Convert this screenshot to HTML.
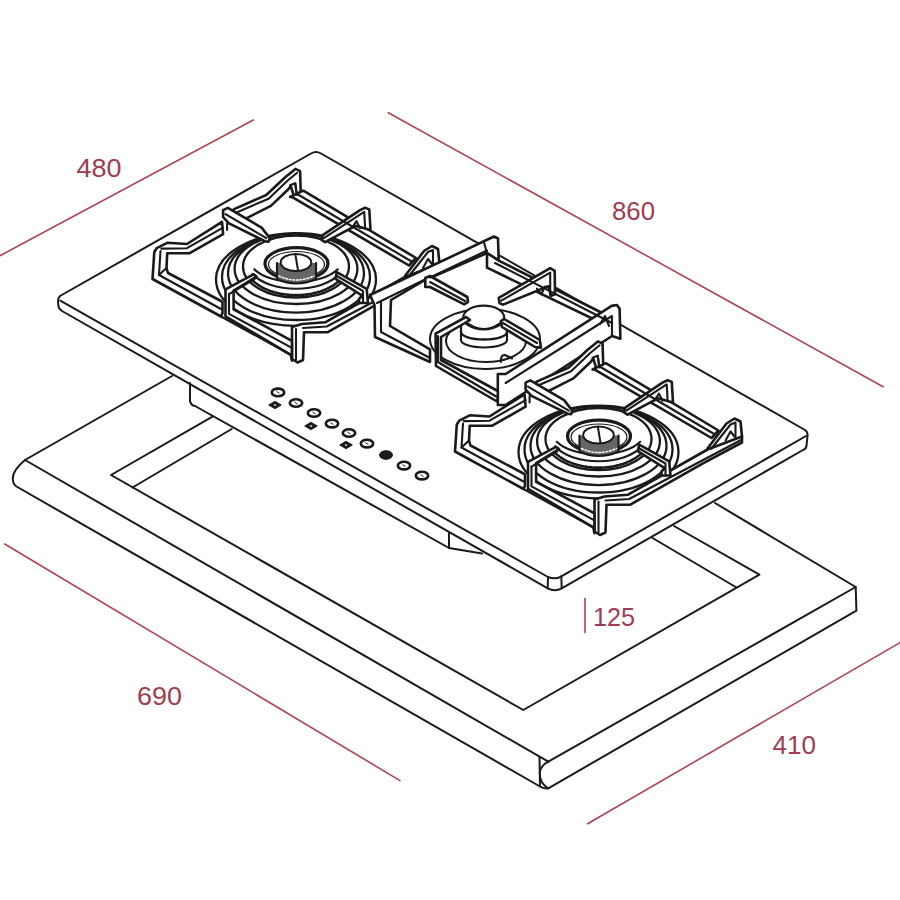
<!DOCTYPE html>
<html><head><meta charset="utf-8"><style>
html,body{margin:0;padding:0;background:#fff;width:900px;height:900px;overflow:hidden}
svg{display:block}
</style></head><body>
<svg width="900" height="900" viewBox="0 0 900 900"><g stroke="#ad4553" stroke-width="1.6" fill="none" stroke-linecap="round">
<line x1="0" y1="255.7" x2="253.3" y2="120"/>
<line x1="388.3" y1="112.7" x2="883.1" y2="386.7"/>
<line x1="4.7" y1="544" x2="400" y2="780.6"/>
<line x1="587.6" y1="823.8" x2="905" y2="639.8"/>
<line x1="585" y1="598.5" x2="585" y2="632.5"/>
</g>
<g fill="#a03c50" font-family="Liberation Sans, sans-serif" font-size="25">
<text x="76.5" y="176.7" textLength="45" lengthAdjust="spacingAndGlyphs">480</text>
<text x="612" y="220" textLength="43" lengthAdjust="spacingAndGlyphs">860</text>
<text x="137" y="705.2" textLength="45" lengthAdjust="spacingAndGlyphs">690</text>
<text x="772.5" y="753.5" textLength="43.5" lengthAdjust="spacingAndGlyphs">410</text>
<text x="593" y="626.3" textLength="42" lengthAdjust="spacingAndGlyphs">125</text>
</g>
<g stroke="#1a1a1a" stroke-width="2" fill="none" stroke-linejoin="round" stroke-linecap="round">
<path d="M172,376 L25,460 C19,465 13,472 12.8,478 C12.6,482 13.5,484.5 16.5,486.5 L540,786.5"/>
<path d="M25,460 L548.3,761.7"/>
<path d="M539.5,757 L540,786.5 C542,788 545,788.6 548.3,788.3 L856.4,610.7 L855.7,587 L715,503"/>
<path d="M548.3,761.7 C543,764.5 540,768 539.8,773 C539.6,779 541,784 548.3,788.3"/>
<path d="M548.3,761.7 L855.7,587"/>
<!-- cutout -->
<path d="M212.5,416.7 L111,475 L523.3,710 L759.4,574.7 L674,526"/>
<path d="M132.5,487.5 L231.7,429"/>
<path d="M736.5,587.5 L652.5,538"/>
</g>
<g stroke="#1a1a1a" stroke-width="2" fill="none" stroke-linejoin="round" stroke-linecap="round">
<path d="M190,383 L190,401 C190.5,404 192,405.5 195,406 L449,548 L449,533"/>
<path d="M449,548 L482,553.5"/>
<path d="M60,296 L311,153.5 Q316,150.5 321,153.5 L805,430 Q808,432 807.5,436 L806.5,446 Q806,449 803,450 L561.7,588.3 Q555,592 547.7,588.3 L62,311 Q58.5,309 58.3,305 L58,301 Q58,298 60,296 Z"/>
<path d="M60.3,300.7 L548,577 Q555,580 561.3,576.3 L806,436"/>
<path d="M548,577 L547.7,588.3 M561.3,576.3 L561.7,588.3"/>
</g>
<g transform="translate(0,0)" stroke="#1a1a1a" stroke-width="2" fill="none" stroke-linejoin="round" stroke-linecap="round">
<ellipse cx="296" cy="279.5" rx="80" ry="46.3" fill="#fff" stroke-width="2.3"/>
<ellipse cx="296" cy="277.0" rx="74" ry="43.0" fill="#fff" stroke-width="2.3"/>
<ellipse cx="296" cy="273.3" rx="68" ry="39.3" fill="#fff" stroke-width="2.3"/>
<ellipse cx="296" cy="268.8" rx="61.4" ry="35.2" fill="#fff" stroke-width="2.3"/>
<ellipse cx="296" cy="266.5" rx="53" ry="31" fill="#fff" stroke-width="2.3"/>
<path d="M341.3,278.1 A50,29.6 0 0 1 250.7,278.1" stroke-dasharray="2.2 1.6" stroke-width="2.6"/>
<path d="M339.5,273.8 A48,25.9 0 0 1 252.5,273.8" stroke-width="2.2"/>
<path d="M337.7,269.3 A46,22 0 0 1 254.3,269.3" stroke-width="2.2"/>
<ellipse cx="296.5" cy="263.7" rx="31.5" ry="16" fill="#fff" stroke-width="3.2"/>
<ellipse cx="296.5" cy="264.5" rx="28" ry="13" stroke-width="1.2"/>
<path d="M277,263 L277,279 Q296,288 316,279 L316,263" fill="#666" stroke-width="2.2"/>
<path d="M279,276 Q296,284 314,276" stroke="#fff" stroke-width="1.4" stroke-dasharray="1.8 1.8"/>
<ellipse cx="296" cy="262.5" rx="15.3" ry="8.5" fill="#fff" stroke-width="2"/>
<line x1="295.4" y1="254.5" x2="298" y2="270.4"/>
<path d="M222,221.8 L187,244 L167.2,242.8 L156.7,248.2 L154.3,252 L152.5,279 L221,316.5 L222.5,313 L222.5,302 L221,301 L168,273 L166.5,268 L167.2,253.3 L189.3,253.3 L223.1,234.2 Z" fill="#fff" fill-rule="evenodd" stroke-width="2.6"/>
<path d="M233.6,209.4 L266.3,195.0 L284.9,177.5 L295.4,168.9 L300.1,171.2 L300.8,195.0 L305.0,197.3 L305.0,203.1 L294.3,197.3 L290.8,186.1 L287.3,190.3 L270.9,205.9 L245.3,218.8 L232.5,221.1 Z" fill="#fff" fill-rule="evenodd" stroke-width="2.6"/>
<path d="M303.3,190.7 L416,258 L409,265.5 L292.7,197.3 L290,197 Z" fill="#fff" fill-rule="evenodd" stroke-width="2.6"/>
<path d="M405,276 L424,251 L432,246 L438,249 L439.5,264 L433,268 L412,280 Z" fill="#fff" fill-rule="evenodd" stroke-width="2.6"/>
<path d="M292,327 L302,324 L325.6,322.2 L405,277 L439.5,264 L439.5,270 L400,291.1 L327.8,332.2 L304,332.2 L303,360 L297.5,362.5 L292,359 Z" fill="#fff" fill-rule="evenodd" stroke-width="2.6"/>
<path d="M225.5,316.3 L225.5,289.4 L253.5,274.3 L256.5,276.6 L233.6,290.6 L233.6,309.3 L291.9,340.8 L291.9,360.6 L290.8,354.8 Z" fill="#fff" fill-rule="evenodd" stroke-width="2.6"/>
<path d="M223.1,210.1 L227.8,207.8 L261.6,227.6 L269.8,238.1 L268.6,241.6 L265.1,241.2 L229.0,223.4 L223.1,217.1 Z" fill="#fff" fill-rule="evenodd" stroke-width="2.6"/>
<path d="M321.5,239.8 L325.0,242.1 L355.3,225.8 L370.5,230.0 L369.3,209.4 L365.1,207.8 L360.0,210.1 L322.7,235.1 Z" fill="#fff" fill-rule="evenodd" stroke-width="2.6"/>
<path d="M335.6,278.9 L336.7,272.2 L366.7,288.9 L368,303 L359,303 L359,299 L362.2,295.6 Z" fill="#fff" fill-rule="evenodd" stroke-width="2.6"/>
<path d="M160.5,251 L159,275 L221,309" stroke-width="2.1"/>
<path d="M159,275 L166.5,268" stroke-width="2.1"/>
<path d="M161.3,248.6 L187.0,248.2 L223.1,227.6" stroke-width="2.1"/>
<path d="M221,316.5 L292,355.5" stroke-width="2.1"/>
<path d="M236.0,212.7 L268.6,198.7 L287.7,180.5 L297.1,172.8" stroke-width="2.1"/>
<path d="M295.4,183.3 L296.6,193.8" stroke-width="2.1"/>
<path d="M298,194.5 L412.5,262" stroke-width="2.1"/>
<path d="M290.0,185.2 L295.1,183.3 L297.0,195.0" stroke-width="2.1"/>
<path d="M409,276 L428,252 L433,250 L433,265" stroke-width="2.1"/>
<path d="M423,268 L428,259 L432,264" stroke-width="2.1"/>
<path d="M303,328 L326.7,326.5 L439.5,267" stroke-width="2.1"/>
<path d="M296,329 L296,360" stroke-width="2.1"/>
<path d="M229.0,294.1 L229.0,313.9 L291.9,347.8" stroke-width="2.1"/>
<path d="M229.0,294.1 L254.6,279.0" stroke-width="2.1"/>
<path d="M225.5,214.1 L266.3,238.1" stroke-width="2.1"/>
<path d="M227.1,223.4 L227.1,230.0" stroke-width="2.1"/>
<path d="M323.8,238.1 L364.2,211.8 L365.1,227.6" stroke-width="2.1"/>
<path d="M351.8,228.1 L356.5,221.1 L360.0,228.1" stroke-width="2.1"/>
<path d="M336,275.5 L363,291 L363,303" stroke-width="2.1"/>
</g>
<g stroke="#1a1a1a" stroke-width="2" fill="none" stroke-linejoin="round" stroke-linecap="round">
<ellipse cx="485" cy="339" rx="55" ry="30" fill="#fff"/>
<ellipse cx="486" cy="341" rx="40" ry="21" fill="#fff"/>
<path d="M461,322 L461,340 A23,7.5 0 0 0 507,340 L507,322 Z" fill="#fff" stroke-width="2.2"/>
<path d="M461,332 A23,7.5 0 0 0 507,332" stroke-width="2.4"/>
<ellipse cx="483.7" cy="317.5" rx="20.5" ry="11.8" fill="#fff" stroke-width="2.2"/>
<path d="M463.5,320 Q484,338 504,320" stroke-width="1.8"/>
<path d="M370,295 L494,236.5 L498,238.5 L498.7,260.6 L487,253 L430,278 L425,280 L391,300 L390,326 L430,349.4 L430,362 L375,337 L374.5,305 Z" fill="#fff" fill-rule="evenodd" stroke-width="2.6"/>
<path d="M498.7,260.6 L612,318 L612,328 L487,267.7 L487,253 Z" fill="#fff" fill-rule="evenodd" stroke-width="2.6"/>
<path d="M505.6,374 L611.6,305.9 L616.9,305 L619.6,308.6 L620.4,338.8 L612,336 L505.6,405 L497.8,405 L497.8,374 Z" fill="#fff" fill-rule="evenodd" stroke-width="2.6"/>
<path d="M435.6,333.6 L466,317 L470,320 L441,337 L441,360 L497.8,391 L497.8,399 L496.2,401 L436,366 Z" fill="#fff" fill-rule="evenodd" stroke-width="2.6"/>
<path d="M425.3,278 L430,276 L467.3,297 L468,302 L464.2,304.3 L430,287 L425.3,287 Z" fill="#fff" fill-rule="evenodd" stroke-width="2.6"/>
<path d="M498.7,297.9 L550.2,268.2 L554.7,270.9 L555,294.3 L551.1,295.8 L548.4,286.3 L503.1,304.6 L499.6,303.2 Z" fill="#fff" fill-rule="evenodd" stroke-width="2.6"/>
<path d="M500.9,321.1 L504,319 L539.8,340 L541,347.6 L535,347 L502,327 Z" fill="#fff" fill-rule="evenodd" stroke-width="2.6"/>
<path d="M377,303 L425,279.5" stroke-width="2.1"/>
<path d="M430,277.5 L487,250.5" stroke-width="2.1"/>
<path d="M381,302 L381,332 L430,358" stroke-width="2.1"/>
<path d="M483.6,241 L487,253" stroke-width="2.1"/>
<path d="M495,263 L612,323" stroke-width="2.1"/>
<path d="M505.6,383 L612,316 L612,336" stroke-width="2.1"/>
<path d="M600,324 L605,316 L609,326" stroke-width="2.1"/>
<path d="M438,336 L438,362 L497,397" stroke-width="2.1"/>
<path d="M430,282 L465,301" stroke-width="2.1"/>
<path d="M501.3,300.6 L550.2,272.6 L550.2,295.2" stroke-width="2.1"/>
<path d="M536.9,288.5 L541.3,294.3 L544.9,286.5" stroke-width="2.1"/>
<path d="M503,323 L537,343" stroke-width="2.1"/>
<path d="M501,362 C500.5,357.5 502,354.5 505,355 L512,358.5" stroke-width="2.1"/>
</g>
<g transform="translate(302.5,172.5)" stroke="#1a1a1a" stroke-width="2" fill="none" stroke-linejoin="round" stroke-linecap="round">
<ellipse cx="296" cy="279.5" rx="80" ry="46.3" fill="#fff" stroke-width="2.3"/>
<ellipse cx="296" cy="277.0" rx="74" ry="43.0" fill="#fff" stroke-width="2.3"/>
<ellipse cx="296" cy="273.3" rx="68" ry="39.3" fill="#fff" stroke-width="2.3"/>
<ellipse cx="296" cy="268.8" rx="61.4" ry="35.2" fill="#fff" stroke-width="2.3"/>
<ellipse cx="296" cy="266.5" rx="53" ry="31" fill="#fff" stroke-width="2.3"/>
<path d="M341.3,278.1 A50,29.6 0 0 1 250.7,278.1" stroke-dasharray="2.2 1.6" stroke-width="2.6"/>
<path d="M339.5,273.8 A48,25.9 0 0 1 252.5,273.8" stroke-width="2.2"/>
<path d="M337.7,269.3 A46,22 0 0 1 254.3,269.3" stroke-width="2.2"/>
<ellipse cx="296.5" cy="263.7" rx="31.5" ry="16" fill="#fff" stroke-width="3.2"/>
<ellipse cx="296.5" cy="264.5" rx="28" ry="13" stroke-width="1.2"/>
<path d="M277,263 L277,279 Q296,288 316,279 L316,263" fill="#666" stroke-width="2.2"/>
<path d="M279,276 Q296,284 314,276" stroke="#fff" stroke-width="1.4" stroke-dasharray="1.8 1.8"/>
<ellipse cx="296" cy="262.5" rx="15.3" ry="8.5" fill="#fff" stroke-width="2"/>
<line x1="295.4" y1="254.5" x2="298" y2="270.4"/>
<path d="M222,221.8 L187,244 L167.2,242.8 L156.7,248.2 L154.3,252 L152.5,279 L221,316.5 L222.5,313 L222.5,302 L221,301 L168,273 L166.5,268 L167.2,253.3 L189.3,253.3 L223.1,234.2 Z" fill="#fff" fill-rule="evenodd" stroke-width="2.6"/>
<path d="M233.6,209.4 L266.3,195.0 L284.9,177.5 L295.4,168.9 L300.1,171.2 L300.8,195.0 L305.0,197.3 L305.0,203.1 L294.3,197.3 L290.8,186.1 L287.3,190.3 L270.9,205.9 L245.3,218.8 L232.5,221.1 Z" fill="#fff" fill-rule="evenodd" stroke-width="2.6"/>
<path d="M303.3,190.7 L416,258 L409,265.5 L292.7,197.3 L290,197 Z" fill="#fff" fill-rule="evenodd" stroke-width="2.6"/>
<path d="M405,276 L424,251 L432,246 L438,249 L439.5,264 L433,268 L412,280 Z" fill="#fff" fill-rule="evenodd" stroke-width="2.6"/>
<path d="M292,327 L302,324 L325.6,322.2 L405,277 L439.5,264 L439.5,270 L400,291.1 L327.8,332.2 L304,332.2 L303,360 L297.5,362.5 L292,359 Z" fill="#fff" fill-rule="evenodd" stroke-width="2.6"/>
<path d="M225.5,316.3 L225.5,289.4 L253.5,274.3 L256.5,276.6 L233.6,290.6 L233.6,309.3 L291.9,340.8 L291.9,360.6 L290.8,354.8 Z" fill="#fff" fill-rule="evenodd" stroke-width="2.6"/>
<path d="M223.1,210.1 L227.8,207.8 L261.6,227.6 L269.8,238.1 L268.6,241.6 L265.1,241.2 L229.0,223.4 L223.1,217.1 Z" fill="#fff" fill-rule="evenodd" stroke-width="2.6"/>
<path d="M321.5,239.8 L325.0,242.1 L355.3,225.8 L370.5,230.0 L369.3,209.4 L365.1,207.8 L360.0,210.1 L322.7,235.1 Z" fill="#fff" fill-rule="evenodd" stroke-width="2.6"/>
<path d="M335.6,278.9 L336.7,272.2 L366.7,288.9 L368,303 L359,303 L359,299 L362.2,295.6 Z" fill="#fff" fill-rule="evenodd" stroke-width="2.6"/>
<path d="M160.5,251 L159,275 L221,309" stroke-width="2.1"/>
<path d="M159,275 L166.5,268" stroke-width="2.1"/>
<path d="M161.3,248.6 L187.0,248.2 L223.1,227.6" stroke-width="2.1"/>
<path d="M221,316.5 L292,355.5" stroke-width="2.1"/>
<path d="M236.0,212.7 L268.6,198.7 L287.7,180.5 L297.1,172.8" stroke-width="2.1"/>
<path d="M295.4,183.3 L296.6,193.8" stroke-width="2.1"/>
<path d="M298,194.5 L412.5,262" stroke-width="2.1"/>
<path d="M290.0,185.2 L295.1,183.3 L297.0,195.0" stroke-width="2.1"/>
<path d="M409,276 L428,252 L433,250 L433,265" stroke-width="2.1"/>
<path d="M423,268 L428,259 L432,264" stroke-width="2.1"/>
<path d="M303,328 L326.7,326.5 L439.5,267" stroke-width="2.1"/>
<path d="M296,329 L296,360" stroke-width="2.1"/>
<path d="M229.0,294.1 L229.0,313.9 L291.9,347.8" stroke-width="2.1"/>
<path d="M229.0,294.1 L254.6,279.0" stroke-width="2.1"/>
<path d="M225.5,214.1 L266.3,238.1" stroke-width="2.1"/>
<path d="M227.1,223.4 L227.1,230.0" stroke-width="2.1"/>
<path d="M323.8,238.1 L364.2,211.8 L365.1,227.6" stroke-width="2.1"/>
<path d="M351.8,228.1 L356.5,221.1 L360.0,228.1" stroke-width="2.1"/>
<path d="M336,275.5 L363,291 L363,303" stroke-width="2.1"/>
</g>
<g stroke="#1a1a1a" fill="none">
<ellipse cx="278" cy="392.4" rx="6.2" ry="3.8" stroke-width="2.6"/>
<line x1="276.5" y1="391.4" x2="279.5" y2="393.4" stroke-width="1"/>
<ellipse cx="296" cy="403" rx="6.2" ry="3.8" stroke-width="2.6"/>
<line x1="294.5" y1="402" x2="297.5" y2="404" stroke-width="1"/>
<ellipse cx="314" cy="413" rx="6.2" ry="3.8" stroke-width="2.6"/>
<line x1="312.5" y1="412" x2="315.5" y2="414" stroke-width="1"/>
<ellipse cx="332" cy="423.6" rx="6.2" ry="3.8" stroke-width="2.6"/>
<line x1="330.5" y1="422.6" x2="333.5" y2="424.6" stroke-width="1"/>
<ellipse cx="349" cy="433" rx="6.2" ry="3.8" stroke-width="2.6"/>
<line x1="347.5" y1="432" x2="350.5" y2="434" stroke-width="1"/>
<ellipse cx="367" cy="443.6" rx="6.2" ry="3.8" stroke-width="2.6"/>
<line x1="365.5" y1="442.6" x2="368.5" y2="444.6" stroke-width="1"/>
<ellipse cx="404" cy="465.6" rx="6.2" ry="3.8" stroke-width="2.6"/>
<line x1="402.5" y1="464.6" x2="405.5" y2="466.6" stroke-width="1"/>
<ellipse cx="422" cy="475.6" rx="6.2" ry="3.8" stroke-width="2.6"/>
<line x1="420.5" y1="474.6" x2="423.5" y2="476.6" stroke-width="1"/>
<path d="M269,405 L275,401.4 L281,405 L275,408.6 Z" fill="#1a1a1a" stroke-width="1.2" stroke-linejoin="round"/>
<ellipse cx="275" cy="405" rx="1.3" ry="0.8" fill="#fff" stroke="none"/>
<path d="M305,426 L311,422.4 L317,426 L311,429.6 Z" fill="#1a1a1a" stroke-width="1.2" stroke-linejoin="round"/>
<ellipse cx="311" cy="426" rx="1.3" ry="0.8" fill="#fff" stroke="none"/>
<path d="M340,445 L346,441.4 L352,445 L346,448.6 Z" fill="#1a1a1a" stroke-width="1.2" stroke-linejoin="round"/>
<ellipse cx="346" cy="445" rx="1.3" ry="0.8" fill="#fff" stroke="none"/>
<ellipse cx="386" cy="455" rx="6.5" ry="4.3" fill="#1a1a1a" stroke-width="1"/>
</g></svg>
</body></html>
